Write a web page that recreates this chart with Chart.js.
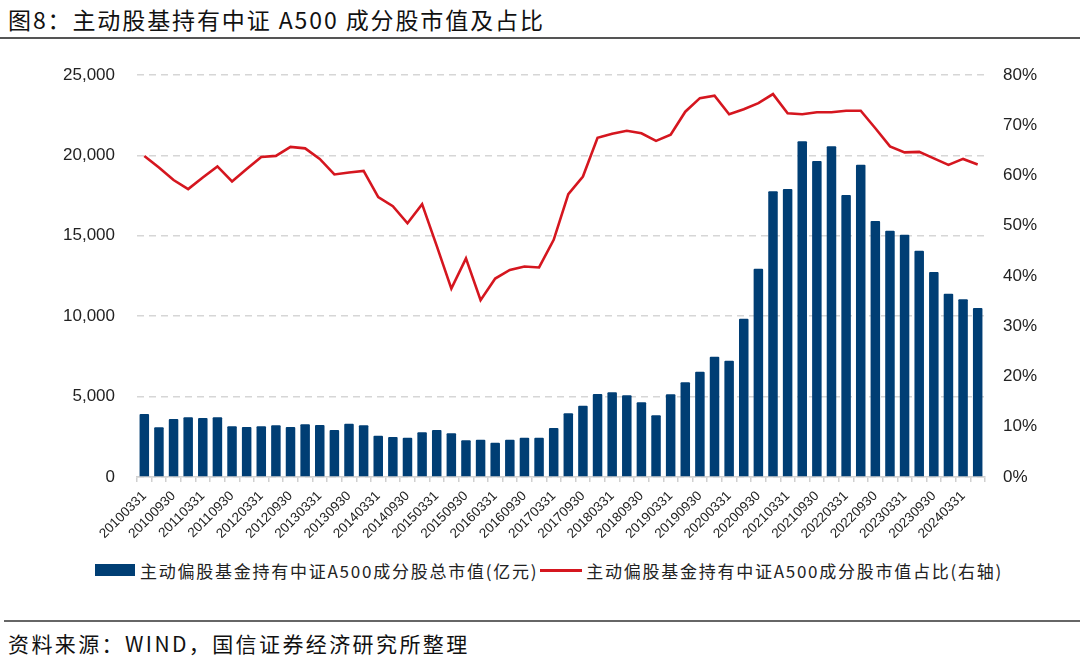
<!DOCTYPE html>
<html>
<head>
<meta charset="utf-8">
<script src="https://cdn.jsdelivr.net/npm/chart.js@4"></script>
<style>
    body { margin: 0; background: #fff; width: 1080px; height: 662px; overflow: hidden; position: relative;
           font-family: "Noto Sans CJK SC", "Liberation Sans", sans-serif; color: #111; }
    #title { position: absolute; left: 8px; top: 2px; font-size: 23px; letter-spacing: 1.9px; white-space: nowrap; }
    #topLine { position: absolute; left: 0; top: 37px; width: 1080px; height: 2px; background: #555; }
    #chartBox { position: absolute; left: 0; top: 40px; width: 1080px; height: 515px; }
    #legend { position: absolute; top: 559px; left: 95px; height: 22px; display: flex; align-items: center; white-space: nowrap;
              font-size: 17px; letter-spacing: 1.75px; color: #222; }
    .box { width: 40px; height: 12px; background: #003e74; margin-right: 5px; }
    .ln { width: 42px; height: 3px; background: #d5161f; margin: 0 4px 0 2px; }
    #botLine { position: absolute; left: 4px; top: 620px; width: 1076px; height: 2px; background: #666; }
    #source { position: absolute; left: 8px; top: 628px; font-size: 21px; letter-spacing: 2.4px; white-space: nowrap; }
</style>
</head>
<body>
<div id="title">图8：主动股基持有中证 A500 成分股市值及占比</div>
<div id="topLine"></div>
<div id="chartBox"><canvas id="chart" width="1080" height="515"></canvas></div>
<div id="legend">
    <div class="box"></div><span>主动偏股基金持有中证A500成分股总市值(亿元)</span>
    <div class="ln"></div><span>主动偏股基金持有中证A500成分股市值占比(右轴)</span>
</div>
<div id="botLine"></div>
<div id="source">资料来源：WIND，国信证券经济研究所整理</div>

<script>
// 季度末日期
const quarters = [
    '20100331','20100630','20100930','20101231','20110331','20110630','20110930','20111231',
    '20120331','20120630','20120930','20121231','20130331','20130630','20130930','20131231',
    '20140331','20140630','20140930','20141231','20150331','20150630','20150930','20151231',
    '20160331','20160630','20160930','20161231','20170331','20170630','20170930','20171231',
    '20180331','20180630','20180930','20181231','20190331','20190630','20190930','20191231',
    '20200331','20200630','20200930','20201231','20210331','20210630','20210930','20211231',
    '20220331','20220630','20220930','20221231','20230331','20230630','20230930','20231231',
    '20240331','20240630'
];

// 总市值(亿元)
const marketValue = [
    3920, 3090, 3610, 3710, 3670, 3710, 3150, 3110,
    3150, 3215, 3110, 3280, 3240, 2920, 3315, 3215,
    2560, 2490, 2445, 2780, 2920, 2715, 2280, 2320,
    2135, 2320, 2445, 2445, 3050, 3960, 4435, 5160,
    5270, 5080, 4645, 3835, 5140, 5900, 6550, 7480,
    7235, 9845, 12955, 17770, 17915, 20880, 19655, 20570,
    17540, 19425, 15920, 15320, 15070, 14075, 12750, 11400,
    11050, 10510
];

// 市值占比(%)
const shareRatio = [
    63.9, 61.6, 59.1, 57.3, 59.6, 61.8, 58.8, 61.3,
    63.7, 63.9, 65.7, 65.4, 63.3, 60.2, 60.6, 60.9,
    55.7, 53.9, 50.5, 54.3, 46.0, 37.5, 43.5, 35.2,
    39.5, 41.2, 41.9, 41.7, 47.2, 56.3, 59.8, 67.5,
    68.3, 68.9, 68.4, 66.9, 68.1, 72.7, 75.4, 75.9,
    72.2, 73.2, 74.4, 76.2, 72.4, 72.2, 72.6, 72.6,
    72.9, 72.9, 69.4, 65.8, 64.6, 64.7, 63.4, 62.1,
    63.3, 62.2
];

const leftTicks = [0, 5000, 10000, 15000, 20000, 25000];
const rightTicks = [0, 10, 20, 30, 40, 50, 60, 70, 80];

const tickFont = { family: '"Liberation Sans", Arial, sans-serif', size: 17 };

new Chart(document.getElementById('chart').getContext('2d'), {
    data: {
        labels: quarters,
        datasets: [
            {
                type: 'line',
                label: '主动偏股基金持有中证A500成分股市值占比(右轴)',
                data: shareRatio,
                yAxisID: 'y1',
                borderColor: '#d5161f',
                borderWidth: 2.6,
                pointRadius: 0,
                tension: 0,
                order: 0
            },
            {
                type: 'bar',
                label: '主动偏股基金持有中证A500成分股总市值(亿元)',
                data: marketValue,
                yAxisID: 'y',
                backgroundColor: '#003e74',
                barPercentage: 0.65,
                categoryPercentage: 1,
                borderRadius: 1,
                order: 1
            }
        ]
    },
    options: {
        responsive: false,
        animation: false,
        devicePixelRatio: 1,
        layout: { padding: { top: 35, left: 0, right: 0, bottom: 0 } },
        plugins: { legend: { display: false }, tooltip: { enabled: false } },
        scales: {
            x: {
                grid: { drawOnChartArea: false, drawTicks: true, tickLength: 5, color: '#d0d0d0', lineWidth: 1.5 },
                border: { display: true, color: '#d0d0d0', width: 1.5 },
                ticks: {
                    autoSkip: false, maxRotation: 45, minRotation: 45, padding: 6,
                    color: '#222',
                    font: { family: '"Liberation Sans", Arial, sans-serif', size: 13.5 },
                    callback: function(v, i) { return i % 2 === 0 ? quarters[i] : ''; }
                },
                afterFit: function(s) { s.height = 78; }
            },
            y: {
                position: 'left',
                min: 0, max: 25000,
                afterBuildTicks: function(s) { s.ticks = leftTicks.map(v => ({ value: v })); },
                grid: { color: '#d6d6d6', lineWidth: 1.5, drawTicks: false, borderDash: [7, 5] },
                border: { display: false, dash: [7, 5] },
                ticks: {
                    padding: 22, color: '#222', font: tickFont,
                    callback: v => v.toLocaleString('en-US')
                },
                afterFit: function(s) { s.width = 137; }
            },
            y1: {
                position: 'right',
                min: 0, max: 80,
                afterBuildTicks: function(s) { s.ticks = rightTicks.map(v => ({ value: v })); },
                grid: { display: false, drawTicks: false },
                border: { display: false },
                ticks: { padding: 18, color: '#222', font: tickFont, callback: v => v + '%' },
                afterFit: function(s) { s.width = 95; }
            }
        }
    }
});
</script>
</body>
</html>
